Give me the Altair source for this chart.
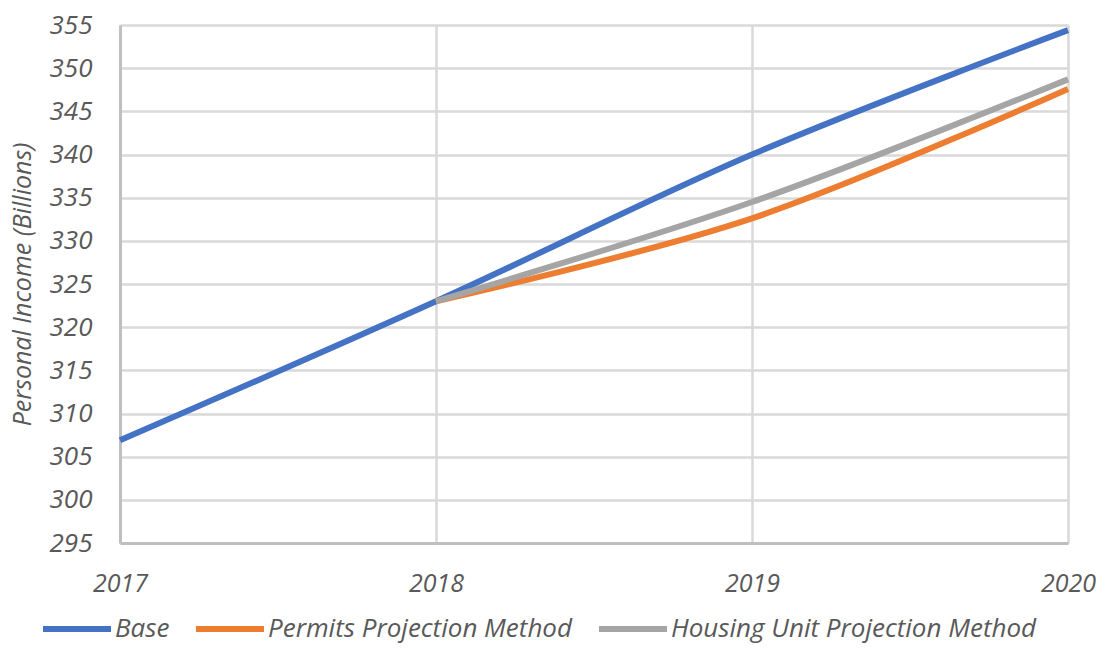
import altair as alt
import pandas as pd

years = [2017, 2018, 2019, 2020]
series_names = ["Base", "Permits Projection Method", "Housing Unit Projection Method"]
base_vals = [306.9, 323.0, 340.0, 354.4]
permits_vals = [None, 323.0, 332.6, 347.6]
housing_vals = [None, 323.0, 334.5, 348.7]
colors = ["#4472C4", "#ED7D31", "#A5A5A5"]

rows = []
for name, vals in zip(series_names, [base_vals, permits_vals, housing_vals]):
    for y, v in zip(years, vals):
        if v is not None:
            rows.append({"Year": y, "Value": v, "Series": name})
df = pd.DataFrame(rows)

FONT = "Open Sans"
TXT = "#595959"

chart = alt.Chart(df).mark_line(
    strokeWidth=6, interpolate="cardinal", strokeCap="butt"
).encode(
    x=alt.X("Year:Q",
            scale=alt.Scale(domain=[2017, 2020], nice=False, zero=False),
            axis=alt.Axis(values=years, format="d", title=None, labelPadding=28,
                          labelFlush=False, ticks=False, labelFontSize=25,
                          domainColor="#BFBFBF", domainWidth=3,
                          gridColor="#D9D9D9", gridWidth=2.5)),
    y=alt.Y("Value:Q",
            scale=alt.Scale(domain=[295, 355], nice=False, zero=False),
            axis=alt.Axis(values=list(range(295, 356, 5)), title="Personal Income (Billions)",
                          labelPadding=28, titlePadding=14, ticks=False,
                          domainColor="#BFBFBF", domainWidth=3,
                          gridColor="#D9D9D9", gridWidth=2.5)),
    color=alt.Color("Series:N",
                    scale=alt.Scale(domain=series_names, range=colors),
                    legend=alt.Legend(title=None, orient="none", direction="horizontal",
                                      legendX=-80, legendY=567,
                                      symbolType="stroke", symbolSize=4624,
                                      symbolStrokeWidth=6, labelOffset=1,
                                      columnPadding=14, labelFont=FONT,
                                      labelFontSize=26, labelFontStyle="italic",
                                      labelColor=TXT, labelLimit=600)),
    order=alt.Order("Year:Q"),
).properties(
    width=948, height=518,
    autosize=alt.AutoSizeParams(type="none"),
    padding={"left": 112, "top": 17, "right": 29, "bottom": 102},
).configure_axis(
    labelFont=FONT, labelFontSize=26, labelFontStyle="italic", labelColor=TXT,
    titleFont=FONT, titleFontSize=25, titleFontStyle="italic", titleFontWeight="normal",
    titleColor=TXT,
).configure_view(strokeWidth=0)

chart.save("out.html", embed_options={"renderer": "svg", "actions": False})
